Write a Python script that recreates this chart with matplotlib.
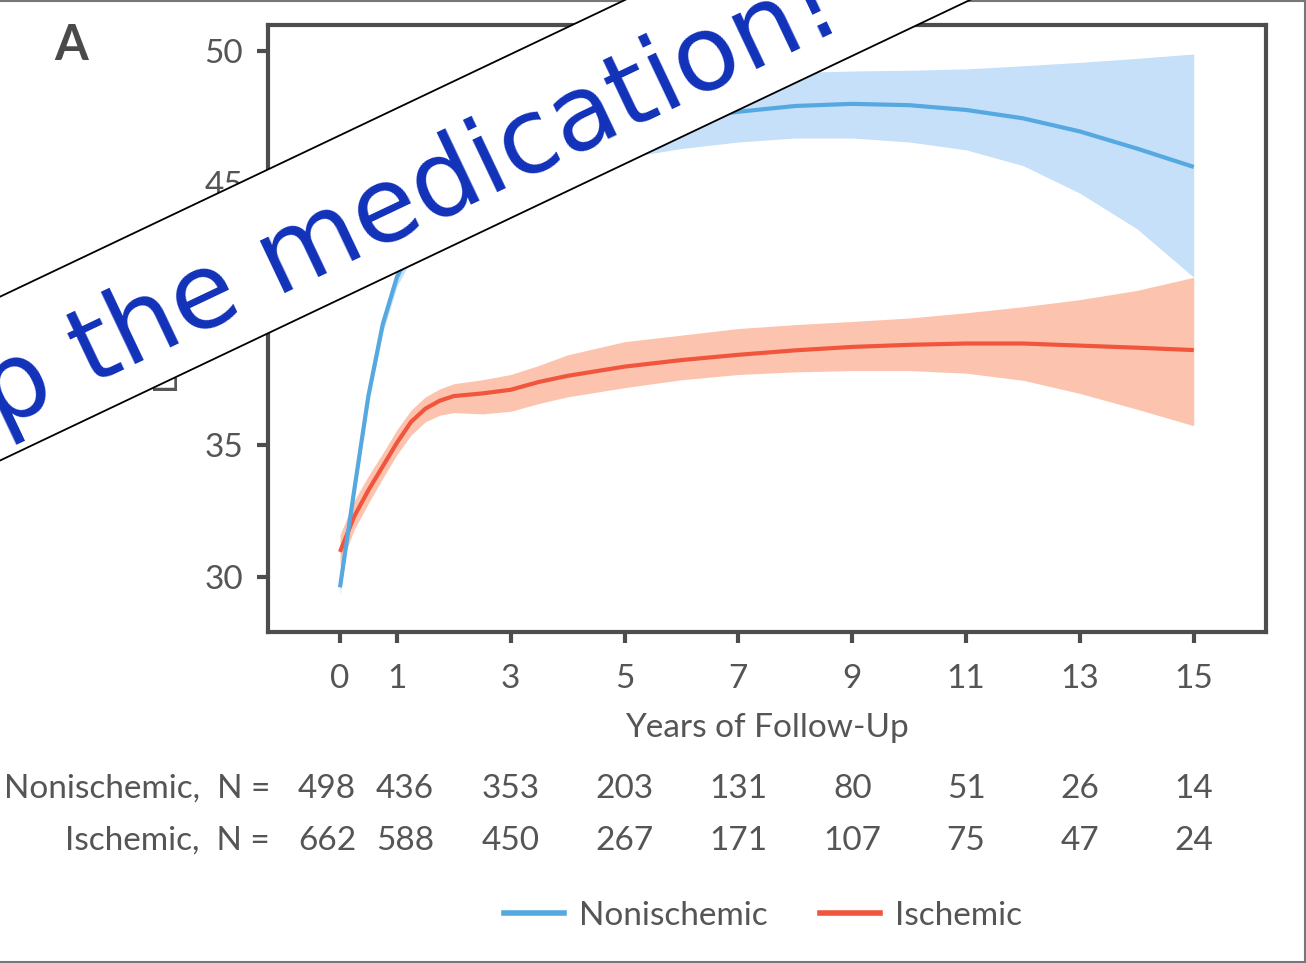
import matplotlib
matplotlib.use('Agg')
import numpy as np
import matplotlib.pyplot as plt
import matplotlib.transforms as mtransforms
from matplotlib.lines import Line2D
from matplotlib.patches import Polygon

# LVEF trajectories with confidence bands
years_non = [0, 0.25, 0.5, 0.75, 1, 1.5, 2, 3, 4, 5, 6, 7, 8, 9, 10, 11, 12, 13, 14, 15]
non_mean = [29.6, 33.3, 36.9, 39.6, 41.4, 43.6, 44.9, 46.2, 46.8, 47.2, 47.45, 47.7, 47.92, 48.0,
            47.95, 47.77, 47.45, 46.95, 46.3, 45.6]
non_lo = [29.3, 33.0, 36.6, 39.3, 41.05, 43.1, 44.2, 45.2, 45.6, 45.95, 46.3, 46.55, 46.7, 46.7,
          46.55, 46.25, 45.65, 44.6, 43.25, 41.4]
non_hi = [29.9, 33.6, 37.2, 39.9, 41.75, 44.1, 45.6, 47.2, 48.0, 48.45, 48.8, 49.05, 49.2, 49.25,
          49.28, 49.33, 49.45, 49.58, 49.73, 49.9]

years_isch = [0, 0.25, 0.5, 0.75, 1, 1.25, 1.5, 1.75, 2, 2.5, 3, 3.5, 4, 5, 6, 7, 8, 9, 10,
              11, 12, 13, 14, 15]
isch_mean = [30.95, 32.3, 33.3, 34.2, 35.1, 35.9, 36.4, 36.7, 36.88, 36.98, 37.12, 37.42, 37.65,
             38.0, 38.25, 38.45, 38.62, 38.75, 38.83, 38.88, 38.88, 38.8, 38.72, 38.63]
isch_lo = [30.4, 31.8, 32.8, 33.75, 34.65, 35.4, 35.9, 36.15, 36.25, 36.2, 36.3, 36.6, 36.85,
           37.2, 37.5, 37.7, 37.8, 37.85, 37.85, 37.75, 37.48, 36.98, 36.38, 35.75]
isch_hi = [31.6, 32.9, 33.85, 34.7, 35.6, 36.35, 36.85, 37.15, 37.35, 37.5, 37.7, 38.05, 38.45,
           38.95, 39.2, 39.45, 39.6, 39.72, 39.85, 40.05, 40.28, 40.55, 40.9, 41.4]

# numbers at risk
risk_years = [0, 1, 3, 5, 7, 9, 11, 13, 15]
risk_non = [498, 436, 353, 203, 131, 80, 51, 26, 14]
risk_isch = [662, 588, 450, 267, 171, 107, 75, 47, 24]

x_ticks = [0, 1, 3, 5, 7, 9, 11, 13, 15]
y_ticks = [30, 35, 40, 45, 50]

blue, blue_band = '#55A8E0', '#C5E0F8'
red, red_band = '#F2553E', '#FCC4AF'
grey = '#555555'

plt.rcParams['font.family'] = ['Lato', 'DejaVu Sans']

W, H = 1306, 963
fig = plt.figure(figsize=(W / 100, H / 100), dpi=100)
ax = fig.add_axes([0.2052, 0.3437, 0.7642, 0.6303])

ax.fill_between(years_non, non_lo, non_hi, color=blue_band, lw=0, zorder=1)
ax.fill_between(years_isch, isch_lo, isch_hi, color=red_band, lw=0, zorder=1)
ax.plot(years_isch, isch_mean, color=red, lw=3, zorder=3, solid_capstyle='butt')
ax.plot(years_non, non_mean, color=blue, lw=3, zorder=4, solid_capstyle='butt')

ax.set_xlim(-1.265, 16.27)
ax.set_ylim(27.9, 51.0)
ax.set_xticks(x_ticks)
ax.set_yticks(y_ticks)
for s in ax.spines.values():
    s.set_color('#4d4d4d')
    s.set_linewidth(3)
ax.tick_params(length=8, width=3, color='#4d4d4d', labelsize=24, labelcolor=grey)
ax.tick_params(axis='x', pad=15)
ax.tick_params(axis='y', pad=10)
ax.set_xlabel('Years of Follow-Up', fontsize=24, color=grey, labelpad=14)

fig.text(184 / W, 0.655, 'LVEF, %', rotation=90, ha='right', va='center',
         fontsize=24, color=grey)
fig.text(71 / W, 1 - 45 / H, 'A', ha='center', va='center', fontsize=35,
         color='#4a4a4a', fontweight='bold')

# at-risk table under the x axis
trans = mtransforms.blended_transform_factory(ax.transData, fig.transFigure)
row_y = [1 - 789 / H, 1 - 841 / H]
nudge = {0: -0.23, 1: 0.14}
for yr, n1, n2 in zip(risk_years, risk_non, risk_isch):
    xp = yr + nudge.get(yr, 0)
    ax.text(xp, row_y[0], str(n1), transform=trans, ha='center', va='center',
            fontsize=24, color=grey)
    ax.text(xp, row_y[1], str(n2), transform=trans, ha='center', va='center',
            fontsize=24, color=grey)
ax.text(-1.23, row_y[0], 'Nonischemic,  N =', transform=trans, ha='right', va='center',
        fontsize=24, color=grey)
ax.text(-1.23, row_y[1], 'Ischemic,  N =', transform=trans, ha='right', va='center',
        fontsize=24, color=grey)

handles = [Line2D([], [], color=blue, lw=4), Line2D([], [], color=red, lw=4)]
fig.legend(handles, ['Nonischemic', 'Ischemic'], loc='center', ncol=2, frameon=False,
           bbox_to_anchor=(763 / W, 1 - 916 / H), fontsize=24, labelcolor=grey,
           handlelength=1.8, handletextpad=0.45, columnspacing=1.6)

# diagonal banner across the top left (pixel coords, y measured from the top)
ang = np.deg2rad(25.4)
d = np.array([np.cos(ang), -np.sin(ang)])
n = np.array([-np.sin(ang), -np.cos(ang)])
low_right = np.array([972.0, -1.0])
low_left = low_right - 1400 * d
band_w = 148
corners = [low_left, low_right, low_right + band_w * n, low_left + band_w * n]
corners = [(p[0] / W, 1 - p[1] / H) for p in corners]
fig.add_artist(Polygon(corners, closed=True, fc='white', ec='black', lw=1.3,
                       transform=fig.transFigure, zorder=9))
fig.text(332 / W, 1 - 238 / H, 'Stop the medication!', rotation=25.4,
         rotation_mode='anchor', ha='center', va='center', fontsize=76,
         color='#1131B9', family='DejaVu Sans', zorder=10)

# thin frame on top, right and bottom
for xs, ys in [([0, 1], [0.999, 0.999]), ([0.9993, 0.9993], [0, 1]), ([0, 1], [0.0008, 0.0008])]:
    fig.add_artist(Line2D(xs, ys, color='#777777', lw=1.5, transform=fig.transFigure))

fig.savefig('out.png', dpi=100, facecolor='white')
